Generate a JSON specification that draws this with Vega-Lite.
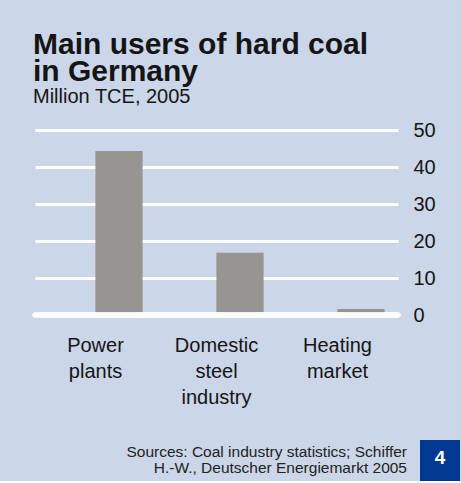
{
  "$schema": "https://vega.github.io/schema/vega-lite/v6.json",
  "background": "#cbd6e8",
  "padding": {"left": 32, "top": 30, "right": 1, "bottom": 0},
  "spacing": 33,
  "config": {
    "font": "Liberation Sans",
    "view": {"stroke": null},
    "text": {"font": "Liberation Sans"}
  },
  "datasets": {
    "coal": [
      {"user": "Power plants", "value": 44.3},
      {"user": "Domestic steel industry", "value": 16.8},
      {"user": "Heating market", "value": 1.6}
    ],
    "sources": [
      {"text": "Sources: Coal industry statistics; Schiffer\nH.-W., Deutscher Energiemarkt 2005"}
    ],
    "badge": [{"text": "4"}]
  },
  "vconcat": [
    {
      "title": {
        "text": ["Main users of hard coal", "in Germany"],
        "subtitle": "Million TCE, 2005",
        "anchor": "start",
        "frame": "group",
        "font": "Liberation Sans",
        "fontSize": 30,
        "fontWeight": "bold",
        "lineHeight": 27,
        "color": "#151515",
        "subtitleFont": "Liberation Sans",
        "subtitleFontSize": 20,
        "subtitleColor": "#151515",
        "subtitlePadding": 0,
        "offset": 13,
        "dx": -2
      },
      "width": 363,
      "height": 185,
      "data": {"name": "coal"},
      "layer": [
        {
          "mark": {"type": "bar", "color": "#969592", "width": {"band": 0.39}, "xOffset": 23.5},
          "encoding": {
            "x": {
              "field": "user",
              "type": "nominal",
              "sort": null,
              "scale": {"paddingInner": 0, "paddingOuter": 0},
              "axis": {
                "title": null,
                "labelAngle": 0,
                "labelFontSize": 20,
                "labelColor": "#151515",
                "labelExpr": "split(datum.label, ' ')",
                "labelLineHeight": 26,
                "labelPadding": 20,
                "ticks": false,
                "domain": false,
                "grid": false
              }
            },
            "y": {
              "field": "value",
              "type": "quantitative",
              "scale": {"domain": [0, 50], "nice": false},
              "axis": {
                "orient": "right",
                "title": null,
                "tickCount": 6,
                "labelOverlap": false,
                "labelFlush": false,
                "labelBound": false,
                "labelFontSize": 20,
                "labelColor": "#151515",
                "labelPadding": 15,
                "ticks": false,
                "domain": false,
                "grid": true,
                "gridColor": "#ffffff",
                "gridWidth": 3,
                "gridOpacity": 1
              }
            }
          }
        },
        {
          "mark": {"type": "rule", "color": "#ffffff", "strokeWidth": 5, "strokeCap": "round"},
          "encoding": {"y": {"datum": 0}}
        }
      ]
    },
    {
      "spacing": 13,
      "hconcat": [
        {
          "width": 372,
          "height": 41,
          "data": {"name": "sources"},
          "mark": {
            "type": "text",
            "x": "width",
            "align": "right",
            "baseline": "alphabetic",
            "dy": -3.5,
            "fontSize": 15.5,
            "lineHeight": 16,
            "lineBreak": "\n",
            "color": "#222222"
          },
          "encoding": {"text": {"field": "text", "type": "nominal"}}
        },
        {
          "width": 40,
          "height": 41,
          "view": {"fill": "#00398f", "stroke": null},
          "data": {"name": "badge"},
          "mark": {
            "type": "text",
            "align": "center",
            "baseline": "alphabetic",
            "dy": 3.5,
            "fontSize": 19,
            "fontWeight": "bold",
            "color": "#ffffff"
          },
          "encoding": {"text": {"field": "text", "type": "nominal"}}
        }
      ]
    }
  ]
}
